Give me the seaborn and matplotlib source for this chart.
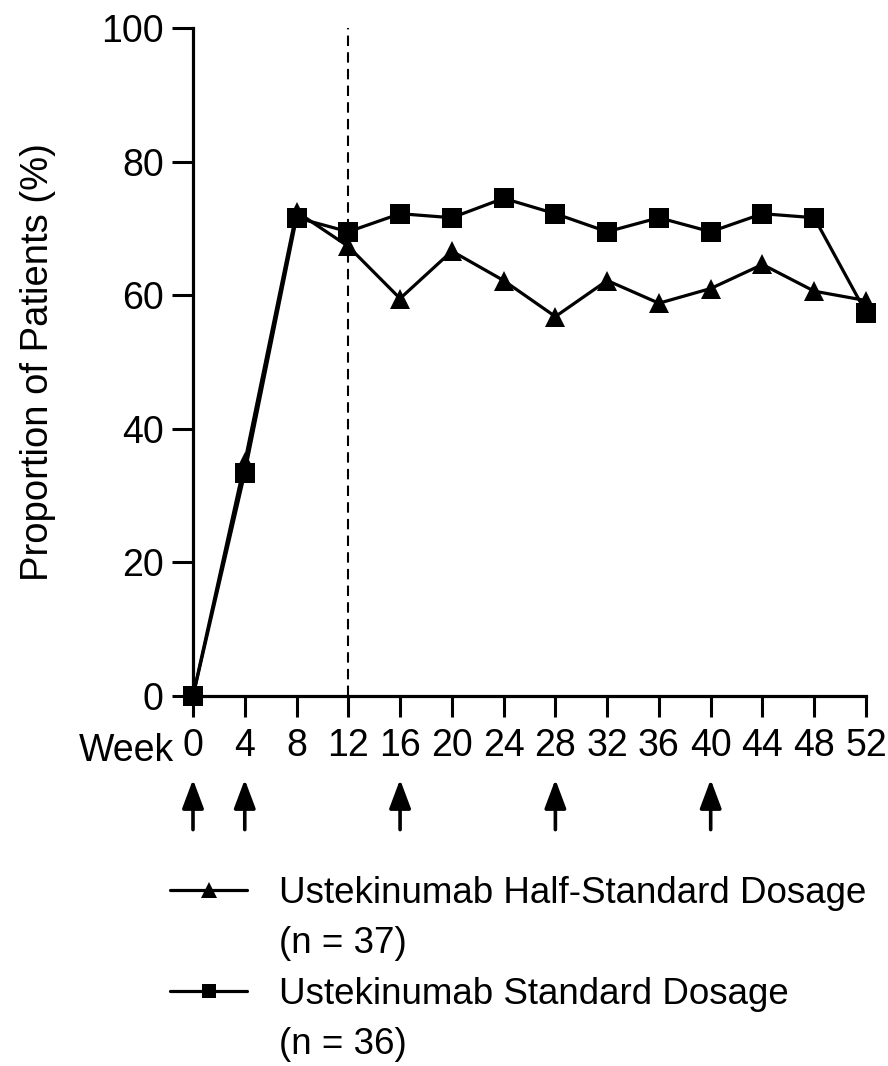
import matplotlib
matplotlib.use("Agg")
import matplotlib.pyplot as plt
from matplotlib.lines import Line2D
import seaborn as sns
import pandas as pd

# Study visits (weeks) and proportion of patients responding (%)
weeks = [0, 4, 8, 12, 16, 20, 24, 28, 32, 36, 40, 44, 48, 52]
half_dose = [0, 35.0, 72.5, 67.3, 59.5, 66.6, 62.2, 56.8, 62.2, 58.8, 61.0, 64.6, 60.6, 59.2]
standard_dose = [0, 33.4, 71.6, 69.5, 72.2, 71.6, 74.5, 72.2, 69.5, 71.6, 69.5, 72.2, 71.6, 57.4]

half_label = "Ustekinumab Half-Standard Dosage"
half_n = "(n = 37)"
std_label = "Ustekinumab Standard Dosage"
std_n = "(n = 36)"

# Dosing visits marked with arrows under the axis
dose_weeks = [0, 4, 16, 28, 40]
x_ticks = list(range(0, 53, 4))
y_ticks = [0, 20, 40, 60, 80, 100]

df = pd.concat([
    pd.DataFrame({"week": weeks, "pct": half_dose, "group": "half"}),
    pd.DataFrame({"week": weeks, "pct": standard_dose, "group": "standard"}),
])

sns.set_theme(style="ticks")
plt.rcParams["font.family"] = ["Liberation Sans", "DejaVu Sans"]
plt.rcParams["text.color"] = "black"
plt.rcParams["axes.labelcolor"] = "black"

W, H = 888, 1066
fig = plt.figure(figsize=(W / 100, H / 100), dpi=100)
ax = fig.add_axes([193 / W, 1 - 696 / H, (866 - 193) / W, (696 - 28) / H])

ax.axvline(12, color="black", lw=1.5, ls=(0, (5, 3)), zorder=1)

sns.lineplot(
    data=df, x="week", y="pct", style="group",
    style_order=["half", "standard"],
    markers={"half": "^", "standard": "s"}, dashes=False,
    color="black", linewidth=2.3, markersize=14, markeredgewidth=0,
    legend=False, ax=ax, clip_on=False, zorder=3,
)

ax.set_xlim(0, 52)
ax.set_ylim(0, 100)
ax.set_xticks(x_ticks)
ax.set_yticks(y_ticks)
ax.set_xlabel("")
ax.set_ylabel("Proportion of Patients (%)", fontsize=27.5)
ax.yaxis.set_label_coords(-0.203, 0.5)
ax.tick_params(axis="both", width=2.2, color="black", labelcolor="black")
ax.tick_params(axis="x", length=15, pad=8, labelsize=27)
ax.tick_params(axis="y", length=15, pad=6, labelsize=27)
for side in ("top", "right"):
    ax.spines[side].set_visible(False)
for side in ("left", "bottom"):
    ax.spines[side].set_linewidth(2.3)
    ax.spines[side].set_color("black")
ax.set_facecolor("white")

xt = ax.get_xaxis_transform()
ax.text(-1.5, -0.0555, "Week", transform=xt, ha="right", va="top", fontsize=27)

for w in dose_weeks:
    ax.annotate("", xy=(w, -0.125), xytext=(w, -0.2), xycoords=xt, textcoords=xt,
                annotation_clip=False,
                arrowprops=dict(arrowstyle="-|>,head_length=0.8,head_width=0.3",
                                lw=2.6, color="black", shrinkA=0, shrinkB=0,
                                mutation_scale=22))

blank = Line2D([], [], linestyle="none")
handles = [
    Line2D([], [], color="black", lw=2.3, marker="^", markersize=11, markeredgewidth=0),
    blank,
    Line2D([], [], color="black", lw=2.3, marker="s", markersize=10, markeredgewidth=0),
    blank,
]
labels = [half_label, half_n, std_label, std_n]
fig.legend(handles, labels, loc="upper left", bbox_to_anchor=(170 / W, 1 - 876 / H),
           frameon=False, fontsize=26.5, borderpad=0, borderaxespad=0,
           handlelength=2.1, handletextpad=0.85, labelspacing=0.42)

fig.savefig("out.png", dpi=100, facecolor="white")
